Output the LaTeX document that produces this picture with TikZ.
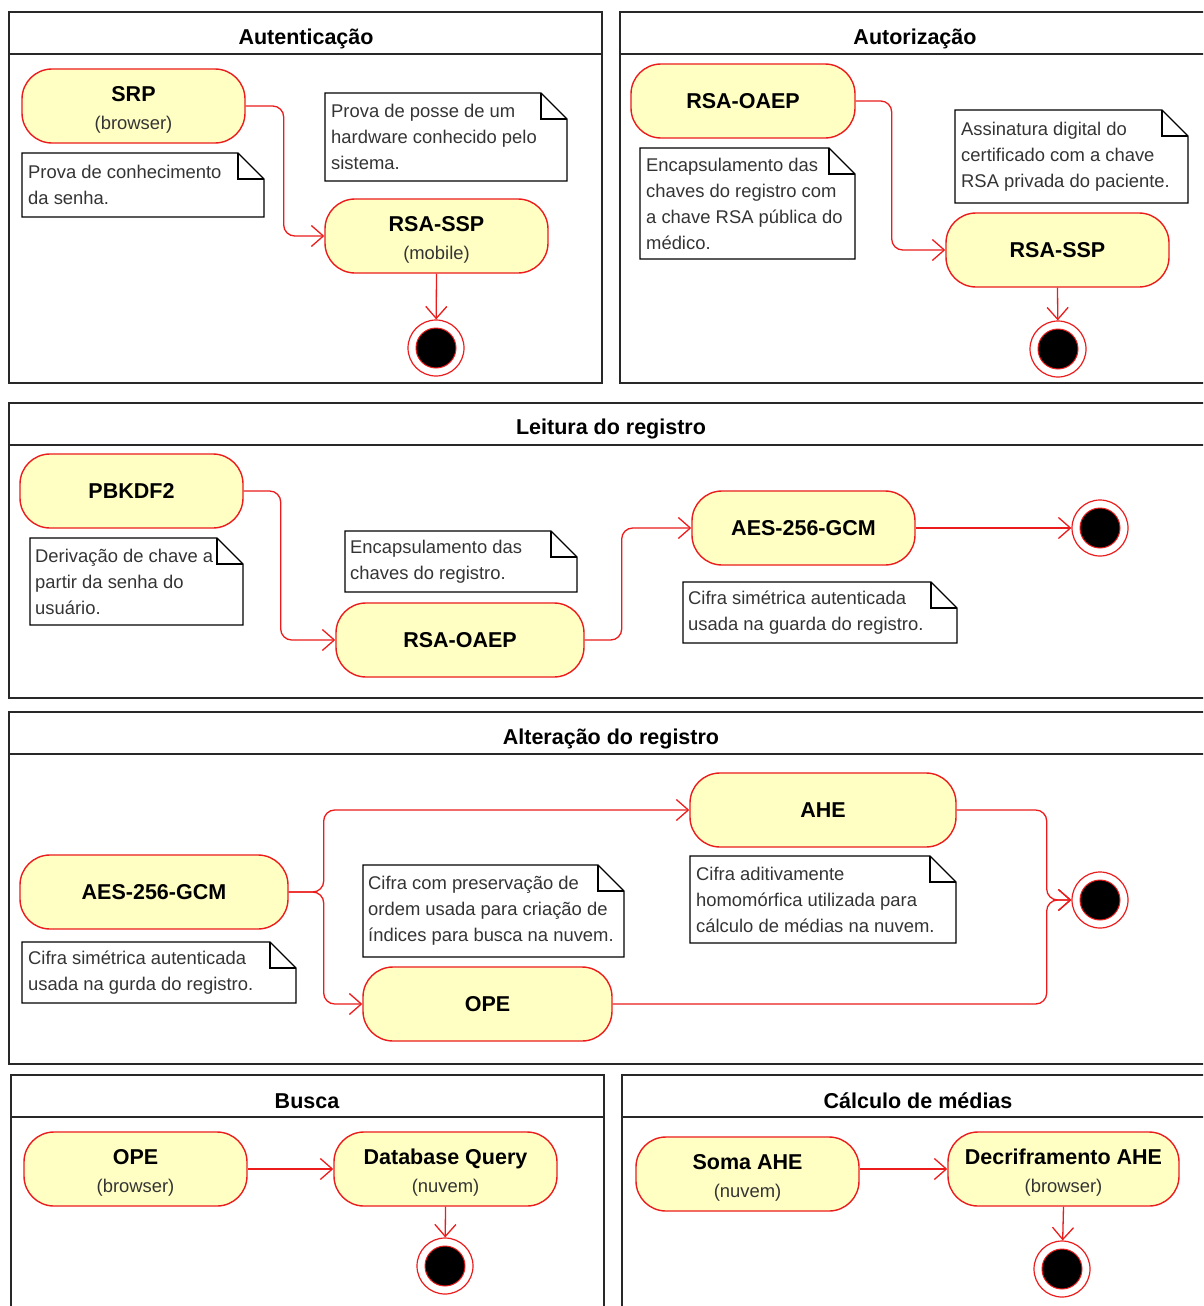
\documentclass[tikz,border=0pt]{standalone}
\usepackage{fontspec}
\setmainfont{Liberation Sans}
\usetikzlibrary{arrows.meta}

\definecolor{actfill}{RGB}{255,255,196}
\definecolor{actline}{RGB}{236,28,28}
\definecolor{frameline}{RGB}{40,40,40}
\definecolor{softtxt}{RGB}{52,52,52}

\tikzset{
  x=1pt, y=-1pt,
  frame/.style={draw=frameline, line width=1.6pt},
  frametitle/.style={font=\bfseries\fontsize{21.5}{26}\selectfont, text=black, inner sep=0pt},
  act/.style={draw=actline, fill=actfill, line width=1.4pt, rounded corners=30pt,
    minimum height=74pt, inner sep=0pt, align=center,
    font=\bfseries\fontsize{21.5}{28}\selectfont, text=black},
  flow/.style={draw=actline, line width=1.3pt, rounded corners=11pt,
    -{Straight Barb[length=12pt, width=21pt, line width=1.3pt]}},
  finalst/.style={circle, draw=actline, fill=white, line width=1.2pt,
    minimum size=56pt, inner sep=0pt,
    path picture={\filldraw[draw=actline, fill=black, line width=1pt]
      (path picture bounding box.center) circle (20pt);}},
  notebody/.style={draw=none, inner sep=0pt, outer sep=0pt},
  noteline/.style={draw=black, line width=1.3pt, line join=miter},
  notetext/.style={align=left, inner sep=0pt, anchor=west, text=softtxt,
    font=\fontsize{18.4}{26}\selectfont},
}

% outline of a note with its folded top-right corner
\newcommand\dogear[1]{%
  \filldraw[noteline, fill=white] (#1.north west) -- ([xshift=-26pt]#1.north east)
    -- ([yshift=-26pt]#1.north east) -- (#1.south east) -- (#1.south west) -- cycle;
  \draw[noteline] ([xshift=-26pt]#1.north east) -- ([xshift=-26pt,yshift=-26pt]#1.north east)
    -- ([yshift=-26pt]#1.north east);}

% action label: bold name over a lighter location line
\newcommand\twoline[2]{\rule{0pt}{22pt}#1\\{\mdseries\color{softtxt}\fontsize{18.4}{26}\selectfont #2}}

\begin{document}
\begin{tikzpicture}
\useasboundingbox (0,0) rectangle (1203,1306);
\fill[white] (0,0) rectangle (1203,1306);
\clip (0,0) rectangle (1203,1306);

% ---------- frames ----------
\draw[frame] (9,12) rectangle (602,383);   \draw[frame] (9,54) -- (602,54);
\draw[frame] (620,12) rectangle (1212,383); \draw[frame] (620,54) -- (1212,54);
\draw[frame] (9,403) rectangle (1212,698);  \draw[frame] (9,445) -- (1212,445);
\draw[frame] (9,712) rectangle (1212,1064); \draw[frame] (9,754) -- (1212,754);
\draw[frame] (11,1075) rectangle (604,1330); \draw[frame] (11,1117) -- (604,1117);
\draw[frame] (622,1075) rectangle (1212,1330); \draw[frame] (622,1117) -- (1212,1117);

\node[frametitle] (tAut) at (306,39) {Autenticação};
\node[frametitle] (tAuz) at (915,39) {Autorização};
\node[frametitle] (tLei) at (611,429) {Leitura do registro};
\node[frametitle] (tAlt) at (611,739) {Alteração do registro};
\node[frametitle] (tBus) at (307,1101) {Busca};
\node[frametitle] (tCal) at (918,1101) {Cálculo de médias};

% ---------- Autenticação ----------
\node[act, minimum width=223pt] (srp) at (133.5,106) {\twoline{SRP}{(browser)}};
\node[act, minimum width=223pt] (ssp1) at (436.5,236) {\twoline{RSA-SSP}{(mobile)}};
\node[finalst] (fin1) at (436,348) {};
\node[notebody, minimum width=242pt, minimum height=64pt] (nA1) at (143,185) {};
\dogear{nA1}
\node[notetext] (nA1t) at ([xshift=6pt]nA1.west) {Prova de conhecimento\\da senha.};
\node[notebody, minimum width=242pt, minimum height=88pt] (nA2) at (446,137) {};
\dogear{nA2}
\node[notetext] (nA2t) at ([xshift=6pt]nA2.west) {Prova de posse de um\\hardware conhecido pelo\\sistema.};
\draw[flow] (srp.east) -- ++(38,0) |- (ssp1.west);
\draw[flow] (ssp1.south) -- (fin1);

% ---------- Autorização ----------
\node[act, minimum width=224pt] (oaep2) at (743,101) {RSA-OAEP};
\node[act, minimum width=223pt] (ssp2) at (1057.5,250) {RSA-SSP};
\node[finalst] (fin2) at (1058,349) {};
\node[notebody, minimum width=215pt, minimum height=111pt] (nB1) at (747.5,203.5) {};
\dogear{nB1}
\node[notetext] (nB1t) at ([xshift=6pt]nB1.west) {Encapsulamento das\\chaves do registro com\\a chave RSA pública do\\médico.};
\node[notebody, minimum width=233pt, minimum height=93pt] (nB2) at (1071.5,156.5) {};
\dogear{nB2}
\node[notetext] (nB2t) at ([xshift=6pt]nB2.west) {Assinatura digital do\\certificado com a chave\\RSA privada do paciente.};
\draw[flow] (oaep2.east) -- ++(36,0) |- (ssp2.west);
\draw[flow] (ssp2.south) -- (fin2);

% ---------- Leitura do registro ----------
\node[act, minimum width=223pt] (pbk) at (131.5,491) {PBKDF2};
\node[act, minimum width=248pt] (oaep3) at (460,640) {RSA-OAEP};
\node[act, minimum width=223pt] (aes3) at (803.5,528) {AES-256-GCM};
\node[finalst] (fin3) at (1100,528) {};
\node[notebody, minimum width=213pt, minimum height=87pt] (nC1) at (136.5,581.5) {};
\dogear{nC1}
\node[notetext] (nC1t) at ([xshift=5pt]nC1.west) {Derivação de chave a\\partir da senha do\\usuário.};
\node[notebody, minimum width=232pt, minimum height=61pt] (nC2) at (461,561.5) {};
\dogear{nC2}
\node[notetext] (nC2t) at ([xshift=5pt]nC2.west) {Encapsulamento das\\chaves do registro.};
\node[notebody, minimum width=274pt, minimum height=61pt] (nC3) at (820,612.5) {};
\dogear{nC3}
\node[notetext] (nC3t) at ([xshift=5pt]nC3.west) {Cifra simétrica autenticada\\usada na guarda do registro.};
\draw[flow] (pbk.east) -- ++(37,0) |- (oaep3.west);
\draw[flow] (oaep3.east) -- ++(37,0) |- (aes3.west);
\draw[flow] (aes3.east) -- (fin3);

% ---------- Alteração do registro ----------
\node[act, minimum width=268pt] (aes4) at (154,892) {AES-256-GCM};
\node[act, minimum width=249pt] (ope4) at (487.5,1004) {OPE};
\node[act, minimum width=266pt] (ahe) at (823,810) {AHE};
\node[finalst] (fin4) at (1100,900) {};
\node[notebody, minimum width=274pt, minimum height=61pt] (nD1) at (159,972.5) {};
\dogear{nD1}
\node[notetext] (nD1t) at ([xshift=6pt]nD1.west) {Cifra simétrica autenticada\\usada na gurda do registro.};
\node[notebody, minimum width=261pt, minimum height=92pt] (nD2) at (493.5,911) {};
\dogear{nD2}
\node[notetext] (nD2t) at ([xshift=5pt]nD2.west) {Cifra com preservação de\\ordem usada para criação de\\índices para busca na nuvem.};
\node[notebody, minimum width=266pt, minimum height=87pt] (nD3) at (823,899.5) {};
\dogear{nD3}
\node[notetext] (nD3t) at ([xshift=6pt]nD3.west) {Cifra aditivamente\\homomórfica utilizada para\\cálculo de médias na nuvem.};
\draw[flow] (aes4.east) -- ++(35,0) |- (ahe.west);
\draw[flow] (aes4.east) -- ++(35,0) |- (ope4.west);
\draw[flow] (ahe.east) -- ++(90,0) |- (fin4.west);
\draw[flow] (ope4.east) -- ++(434,0) |- (fin4.west);

% ---------- Busca ----------
\node[act, minimum width=223pt] (ope5) at (135.5,1169) {\twoline{OPE}{(browser)}};
\node[act, minimum width=223pt] (dbq) at (445.5,1169) {\twoline{Database Query}{(nuvem)}};
\node[finalst] (fin5) at (445,1266) {};
\draw[flow] (ope5.east) -- (dbq.west);
\draw[flow] (dbq.south) -- (fin5);

% ---------- Cálculo de médias ----------
\node[act, minimum width=223pt] (soma) at (747.5,1174) {\twoline{Soma AHE}{(nuvem)}};
\node[act, minimum width=231pt] (decif) at (1063.5,1169) {\twoline{Decriframento AHE}{(browser)}};
\node[finalst] (fin6) at (1062,1269) {};
\draw[flow] (soma.east |- decif.west) -- (decif.west);
\draw[flow] (decif.south) -- (fin6);
\end{tikzpicture}
\end{document}
